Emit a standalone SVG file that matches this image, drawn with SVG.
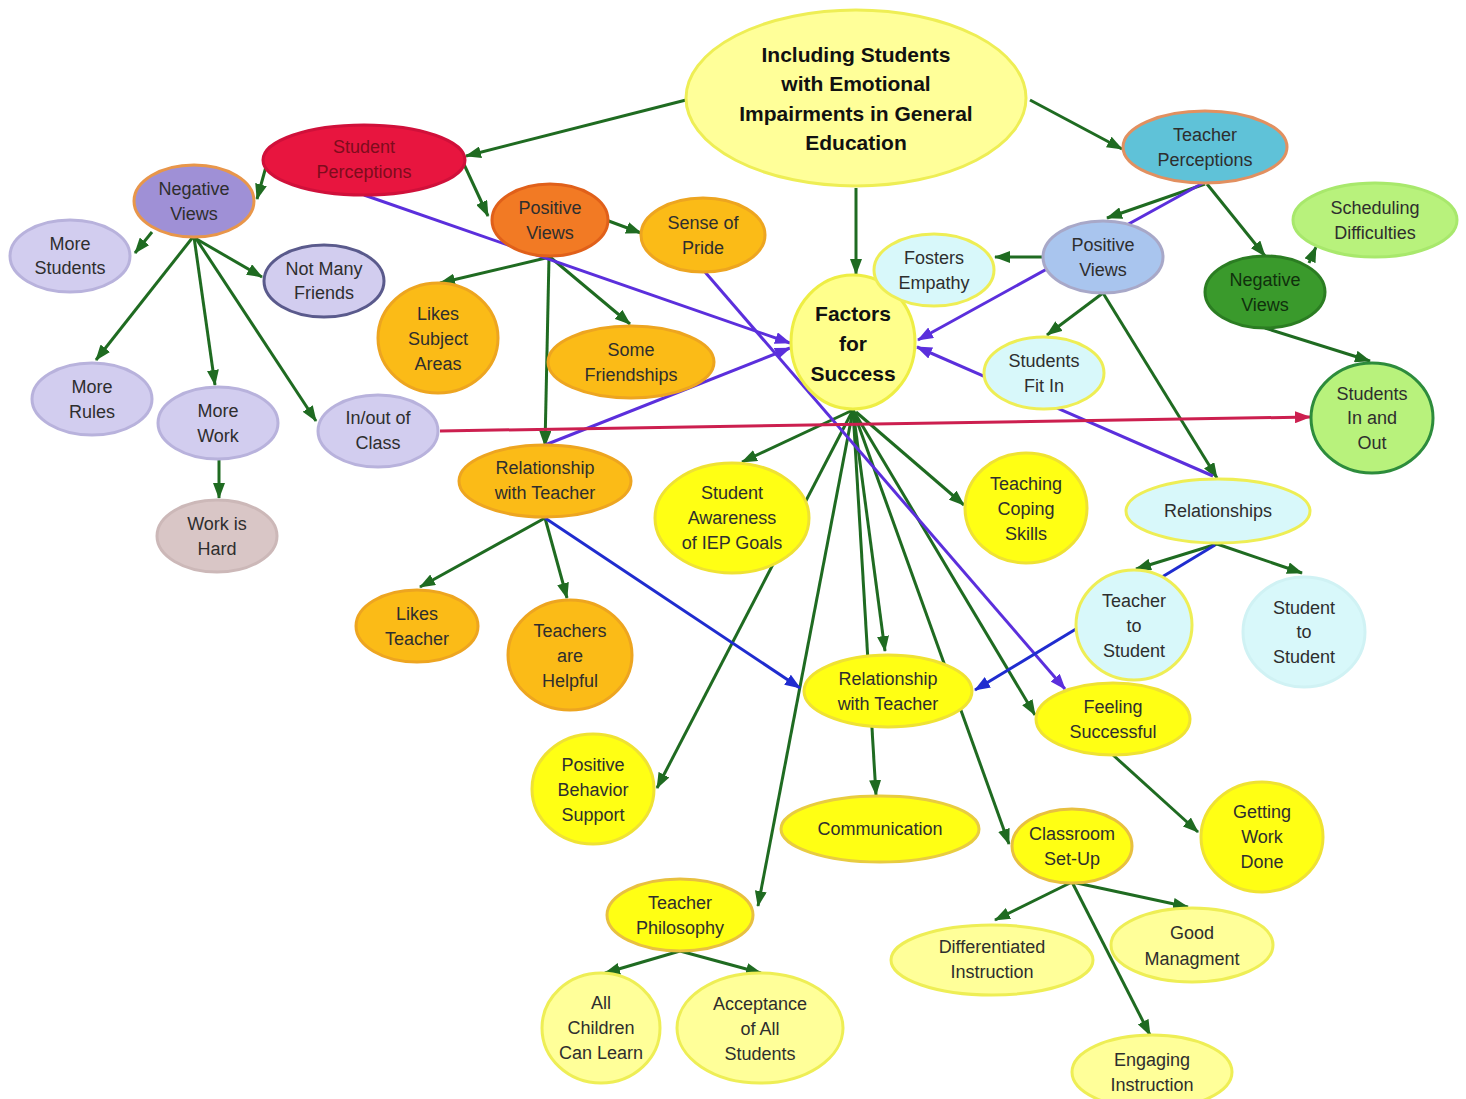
<svg xmlns="http://www.w3.org/2000/svg" width="1466" height="1099" viewBox="0 0 1466 1099">
<style>
text{font-family:"Liberation Sans",Arial,sans-serif;font-size:18px;fill:#2e2e2e;text-anchor:middle;dominant-baseline:central}
.big{font-size:21px;font-weight:bold;fill:#111}
.g{stroke:#1f6b21;stroke-width:3;fill:none;marker-end:url(#aG)}
.p{stroke:#5b2fdc;stroke-width:3;fill:none;marker-end:url(#aP)}
.b{stroke:#1f2ccf;stroke-width:3;fill:none;marker-end:url(#aB)}
.r{stroke:#cc1f4f;stroke-width:3;fill:none;marker-end:url(#aR)}
ellipse{stroke-width:3}
.lav{fill:#d2cdef;stroke:#b8b2dc}
.ory{fill:#fbbb17;stroke:#eda520}
.yel{fill:#ffff14;stroke:#efe233}
.lyl{fill:#ffff99;stroke:#eeee55}
.cyn{fill:#d8f8fa;stroke:#eeee55}
.lgr{fill:#b8f27c;stroke:#a8e86c}
</style>
<defs>
<marker id="aG" markerUnits="userSpaceOnUse" markerWidth="16" markerHeight="12" refX="15" refY="6" orient="auto"><path d="M0,0 L16,6 L0,12 z" fill="#1f6b21"/></marker>
<marker id="aP" markerUnits="userSpaceOnUse" markerWidth="16" markerHeight="12" refX="15" refY="6" orient="auto"><path d="M0,0 L16,6 L0,12 z" fill="#5b2fdc"/></marker>
<marker id="aB" markerUnits="userSpaceOnUse" markerWidth="16" markerHeight="12" refX="15" refY="6" orient="auto"><path d="M0,0 L16,6 L0,12 z" fill="#1f2ccf"/></marker>
<marker id="aR" markerUnits="userSpaceOnUse" markerWidth="16" markerHeight="12" refX="15" refY="6" orient="auto"><path d="M0,0 L16,6 L0,12 z" fill="#cc1f4f"/></marker>
</defs>
<rect width="1466" height="1099" fill="#ffffff"/>
<g id="connectors">
<path class="g" d="M686,100 L466,156"/>
<path class="g" d="M1030,100 L1122,149"/>
<path class="g" d="M856,188 L856,274"/>
<path class="g" d="M267,163 L257,199"/>
<path class="g" d="M462,160 L488,216"/>
<path class="g" d="M152,232 L135,253"/>
<path class="g" d="M193,237 L262,277"/>
<path class="g" d="M193,237 L96,360"/>
<path class="g" d="M194,237 L215,385"/>
<path class="g" d="M195,237 L316,421"/>
<path class="g" d="M219,460 L219,498"/>
<path class="g" d="M606,220 L641,233"/>
<path class="g" d="M550,257 L440,283"/>
<path class="g" d="M550,257 L630,324"/>
<path class="g" d="M549,257 L545,446"/>
<path class="g" d="M545,518 L420,587"/>
<path class="g" d="M545,518 L567,598"/>
<path class="g" d="M1042,257 L995,257"/>
<path class="g" d="M1205,184 L1107,218"/>
<path class="g" d="M1207,184 L1265,256"/>
<path class="g" d="M1309,263 L1316,247"/>
<path class="g" d="M1265,328 L1370,361"/>
<path class="g" d="M1103,293 L1047,335"/>
<path class="g" d="M1103,293 L1217,478"/>
<path class="g" d="M1217,544 L1136,569"/>
<path class="g" d="M1217,544 L1302,573"/>
<path class="g" d="M853,410 L742,462"/>
<path class="g" d="M853,410 L657,788"/>
<path class="g" d="M853,410 L758,906"/>
<path class="g" d="M853,410 L876,795"/>
<path class="g" d="M853,410 L885,651"/>
<path class="g" d="M853,410 L1009,844"/>
<path class="g" d="M853,410 L1035,715"/>
<path class="g" d="M856,412 L964,505"/>
<path class="g" d="M1113,755 L1198,832"/>
<path class="g" d="M1072,882 L995,920"/>
<path class="g" d="M1072,882 L1188,907"/>
<path class="g" d="M1072,882 L1150,1035"/>
<path class="g" d="M680,951 L605,973"/>
<path class="g" d="M680,951 L761,973"/>
<path class="p" d="M364,195 L790,343"/>
<path class="p" d="M545,445 L790,348"/>
<path class="p" d="M705,272 L1065,689"/>
<path class="p" d="M1203,183 L918,340"/>
<path class="p" d="M1213,476 L917,347"/>
<path class="b" d="M545,518 L800,688"/>
<path class="b" d="M1215,545 L975,690"/>
<path class="r" d="M440,431 L1310,417"/>
</g>
<g id="n-main"><ellipse cx="856" cy="98" rx="170" ry="88" fill="#ffff99" stroke="#eeee55"/><text class="big"><tspan x="856" y="54">Including Students</tspan><tspan x="856" y="83">with Emotional</tspan><tspan x="856" y="113">Impairments in General</tspan><tspan x="856" y="142">Education</tspan></text></g>
<g id="n-student-perceptions"><ellipse cx="364" cy="160" rx="101" ry="35" fill="#e8153f" stroke="#d0103a"/><text style="fill:#7e0c1c"><tspan x="364" y="147">Student</tspan><tspan x="364" y="172">Perceptions</tspan></text></g>
<g id="n-neg-views-s"><ellipse cx="194" cy="201" rx="60" ry="36" fill="#9f90d6" stroke="#e8964a"/><text><tspan x="194" y="189">Negative</tspan><tspan x="194" y="214">Views</tspan></text></g>
<g id="n-more-students"><ellipse class="lav" cx="70" cy="256" rx="60" ry="36"/><text><tspan x="70" y="244">More</tspan><tspan x="70" y="268">Students</tspan></text></g>
<g id="n-not-many-friends"><ellipse cx="324" cy="281" rx="60" ry="36" fill="#d2cdef" stroke="#5a5a8c"/><text><tspan x="324" y="269">Not Many</tspan><tspan x="324" y="293">Friends</tspan></text></g>
<g id="n-more-rules"><ellipse class="lav" cx="92" cy="399" rx="60" ry="36"/><text><tspan x="92" y="387">More</tspan><tspan x="92" y="412">Rules</tspan></text></g>
<g id="n-more-work"><ellipse class="lav" cx="218" cy="423" rx="60" ry="36"/><text><tspan x="218" y="411">More</tspan><tspan x="218" y="436">Work</tspan></text></g>
<g id="n-inout-class"><ellipse class="lav" cx="378" cy="431" rx="60" ry="36"/><text><tspan x="378" y="418">In/out of</tspan><tspan x="378" y="443">Class</tspan></text></g>
<g id="n-work-hard"><ellipse cx="217" cy="536" rx="60" ry="36" fill="#d9c6c6" stroke="#ccb8b8"/><text><tspan x="217" y="524">Work is</tspan><tspan x="217" y="549">Hard</tspan></text></g>
<g id="n-pos-views-s"><ellipse cx="550" cy="220" rx="58" ry="36" fill="#f27a24" stroke="#e0601a"/><text><tspan x="550" y="208">Positive</tspan><tspan x="550" y="233">Views</tspan></text></g>
<g id="n-sense-pride"><ellipse class="ory" cx="703" cy="235" rx="62" ry="37"/><text><tspan x="703" y="223">Sense of</tspan><tspan x="703" y="248">Pride</tspan></text></g>
<g id="n-likes-subject"><ellipse class="ory" cx="438" cy="338" rx="60" ry="55"/><text><tspan x="438" y="314">Likes</tspan><tspan x="438" y="339">Subject</tspan><tspan x="438" y="364">Areas</tspan></text></g>
<g id="n-some-friendships"><ellipse class="ory" cx="631" cy="362" rx="83" ry="36"/><text><tspan x="631" y="350">Some</tspan><tspan x="631" y="375">Friendships</tspan></text></g>
<g id="n-rwt-s"><ellipse class="ory" cx="545" cy="481" rx="86" ry="36"/><text><tspan x="545" y="468">Relationship</tspan><tspan x="545" y="493">with Teacher</tspan></text></g>
<g id="n-likes-teacher"><ellipse class="ory" cx="417" cy="626" rx="61" ry="36"/><text><tspan x="417" y="614">Likes</tspan><tspan x="417" y="639">Teacher</tspan></text></g>
<g id="n-teachers-helpful"><ellipse class="ory" cx="570" cy="655" rx="62" ry="55"/><text><tspan x="570" y="631">Teachers</tspan><tspan x="570" y="656">are</tspan><tspan x="570" y="681">Helpful</tspan></text></g>
<g id="n-factors"><ellipse cx="853" cy="342" rx="62" ry="67" fill="#ffff8c" stroke="#eeee44"/><text class="big"><tspan x="853" y="313">Factors</tspan><tspan x="853" y="343">for</tspan><tspan x="853" y="373">Success</tspan></text></g>
<g id="n-fosters-empathy"><ellipse class="cyn" cx="934" cy="270" rx="60" ry="36"/><text><tspan x="934" y="258">Fosters</tspan><tspan x="934" y="283">Empathy</tspan></text></g>
<g id="n-teacher-perceptions"><ellipse cx="1205" cy="147" rx="82" ry="36" fill="#5fc2d8" stroke="#e29060"/><text><tspan x="1205" y="135">Teacher</tspan><tspan x="1205" y="160">Perceptions</tspan></text></g>
<g id="n-pos-views-t"><ellipse cx="1103" cy="257" rx="60" ry="36" fill="#a9c5ee" stroke="#a8a8c8"/><text><tspan x="1103" y="245">Positive</tspan><tspan x="1103" y="270">Views</tspan></text></g>
<g id="n-scheduling"><ellipse class="lgr" cx="1375" cy="220" rx="82" ry="37"/><text><tspan x="1375" y="208">Scheduling</tspan><tspan x="1375" y="233">Difficulties</tspan></text></g>
<g id="n-neg-views-t"><ellipse cx="1265" cy="292" rx="60" ry="36" fill="#3a9a2c" stroke="#2b7d22"/><text style="fill:#10300c"><tspan x="1265" y="280">Negative</tspan><tspan x="1265" y="305">Views</tspan></text></g>
<g id="n-students-fit-in"><ellipse class="cyn" cx="1044" cy="373" rx="60" ry="36"/><text><tspan x="1044" y="361">Students</tspan><tspan x="1044" y="386">Fit In</tspan></text></g>
<g id="n-students-in-out"><ellipse cx="1372" cy="418" rx="61" ry="55" fill="#b8f27c" stroke="#2d8c3c"/><text><tspan x="1372" y="394">Students</tspan><tspan x="1372" y="418">In and</tspan><tspan x="1372" y="443">Out</tspan></text></g>
<g id="n-relationships"><ellipse class="cyn" cx="1218" cy="511" rx="92" ry="32"/><text x="1218" y="511">Relationships</text></g>
<g id="n-teacher-to-student"><ellipse class="cyn" cx="1134" cy="625" rx="58" ry="55"/><text><tspan x="1134" y="601">Teacher</tspan><tspan x="1134" y="626">to</tspan><tspan x="1134" y="651">Student</tspan></text></g>
<g id="n-student-to-student"><ellipse cx="1304" cy="632" rx="61" ry="55" fill="#d8f8fa" stroke="#d0f2f4"/><text><tspan x="1304" y="608">Student</tspan><tspan x="1304" y="632">to</tspan><tspan x="1304" y="657">Student</tspan></text></g>
<g id="n-student-awareness"><ellipse class="yel" cx="732" cy="518" rx="77" ry="55"/><text><tspan x="732" y="493">Student</tspan><tspan x="732" y="518">Awareness</tspan><tspan x="732" y="543">of IEP Goals</tspan></text></g>
<g id="n-coping"><ellipse class="yel" cx="1026" cy="508" rx="61" ry="55"/><text><tspan x="1026" y="484">Teaching</tspan><tspan x="1026" y="509">Coping</tspan><tspan x="1026" y="534">Skills</tspan></text></g>
<g id="n-rwt-f"><ellipse class="yel" cx="888" cy="691" rx="84" ry="36"/><text><tspan x="888" y="679">Relationship</tspan><tspan x="888" y="704">with Teacher</tspan></text></g>
<g id="n-feeling-successful"><ellipse class="yel" cx="1113" cy="719" rx="77" ry="36"/><text><tspan x="1113" y="707">Feeling</tspan><tspan x="1113" y="732">Successful</tspan></text></g>
<g id="n-pbs"><ellipse class="yel" cx="593" cy="789" rx="61" ry="55"/><text><tspan x="593" y="765">Positive</tspan><tspan x="593" y="790">Behavior</tspan><tspan x="593" y="815">Support</tspan></text></g>
<g id="n-communication"><ellipse cx="880" cy="829" rx="99" ry="33" fill="#ffff14" stroke="#e8cc40"/><text x="880" y="829">Communication</text></g>
<g id="n-classroom"><ellipse cx="1072" cy="846" rx="60" ry="37" fill="#ffff14" stroke="#e8c040"/><text><tspan x="1072" y="834">Classroom</tspan><tspan x="1072" y="859">Set-Up</tspan></text></g>
<g id="n-getting-work"><ellipse class="yel" cx="1262" cy="837" rx="61" ry="55"/><text><tspan x="1262" y="812">Getting</tspan><tspan x="1262" y="837">Work</tspan><tspan x="1262" y="862">Done</tspan></text></g>
<g id="n-teacher-philosophy"><ellipse cx="680" cy="915" rx="73" ry="36" fill="#ffff14" stroke="#e8c040"/><text><tspan x="680" y="903">Teacher</tspan><tspan x="680" y="928">Philosophy</tspan></text></g>
<g id="n-all-children"><ellipse class="lyl" cx="601" cy="1028" rx="59" ry="55"/><text><tspan x="601" y="1003">All</tspan><tspan x="601" y="1028">Children</tspan><tspan x="601" y="1053">Can Learn</tspan></text></g>
<g id="n-acceptance"><ellipse class="lyl" cx="760" cy="1028" rx="83" ry="55"/><text><tspan x="760" y="1004">Acceptance</tspan><tspan x="760" y="1029">of All</tspan><tspan x="760" y="1054">Students</tspan></text></g>
<g id="n-differentiated"><ellipse class="lyl" cx="992" cy="960" rx="101" ry="35"/><text><tspan x="992" y="947">Differentiated</tspan><tspan x="992" y="972">Instruction</tspan></text></g>
<g id="n-good-management"><ellipse class="lyl" cx="1192" cy="945" rx="81" ry="37"/><text><tspan x="1192" y="933">Good</tspan><tspan x="1192" y="959">Managment</tspan></text></g>
<g id="n-engaging"><ellipse class="lyl" cx="1152" cy="1072" rx="80" ry="37"/><text><tspan x="1152" y="1060">Engaging</tspan><tspan x="1152" y="1085">Instruction</tspan></text></g>
</svg>
